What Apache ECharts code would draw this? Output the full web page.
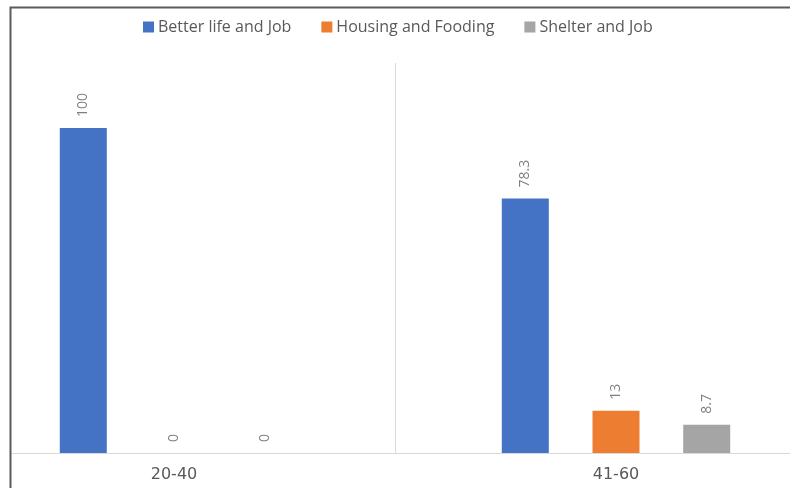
<!DOCTYPE html>
<html>
<head>
<meta charset="utf-8">
<script src="https://cdn.jsdelivr.net/npm/echarts@6/dist/echarts.min.js"></script>
<style>html,body{margin:0;padding:0;background:#fff;overflow:hidden;width:790px;height:488px;position:relative}#c{position:absolute;left:-47px;top:0;width:884px;height:488px}</style>
</head>
<body>
<div id="c"></div>
<script>
const categories = ['20-40', '41-60'];
const seriesNames = ['Better life and Job', 'Housing and Fooding', 'Shelter and Job'];
const betterLife = [100, 78.3];
const housing = [0, 13];
const shelter = [0, 8.7];
const colors = ['#4472C4', '#ED7D31', '#A5A5A5'];
const font = 'Open Sans';
const off = 47; // container offset to the left

const chart = echarts.init(document.getElementById('c'), null, {renderer: 'canvas'});
const labelCfg = {
  show: true, position: 'top', rotate: 90, align: 'left', verticalAlign: 'middle',
  distance: 11, color: '#7f7f7f', fontSize: 14, fontFamily: font
};
const datasets = [betterLife, housing, shelter];
chart.setOption({
  animation: false,
  backgroundColor: '#fff',
  color: colors,
  legend: {
    top: 14, left: 138 + off, icon: 'rect', itemWidth: 11, itemHeight: 11, itemGap: 30,
    textStyle: {color: '#595959', fontSize: 16, fontFamily: font, padding: [0, 0, 0, -1]},
    data: seriesNames
  },
  grid: {left: 0, right: 0, top: 63, bottom: 35, containLabel: false},
  xAxis: {
    type: 'category', data: categories,
    axisLine: {lineStyle: {color: '#d9d9d9', width: 1}},
    axisTick: {show: false},
    splitLine: {show: true, lineStyle: {color: '#d9d9d9', width: 1}},
    axisLabel: {color: '#595959', fontSize: 16, fontFamily: 'DejaVu Sans', margin: 14}
  },
  yAxis: {
    type: 'value', min: 0, max: 120, interval: 20,
    show: false, splitLine: {show: false}
  },
  series: seriesNames.map((n, i) => ({
    name: n, type: 'bar', data: datasets[i], barWidth: 47, barGap: '93%',
    label: labelCfg
  })),
  graphic: [
    {type: 'rect', shape: {x: 0, y: 0, width: off + 10, height: 488}, style: {fill: '#fff'}, z: 100},
    {type: 'polyline', shape: {points: [[off + 10.5, 488], [off + 10.5, 7.5], [off + 790, 7.5]]},
     style: {stroke: '#5a5a5a', lineWidth: 2, fill: null}, z: 101}
  ]
});
</script>
</body>
</html>
